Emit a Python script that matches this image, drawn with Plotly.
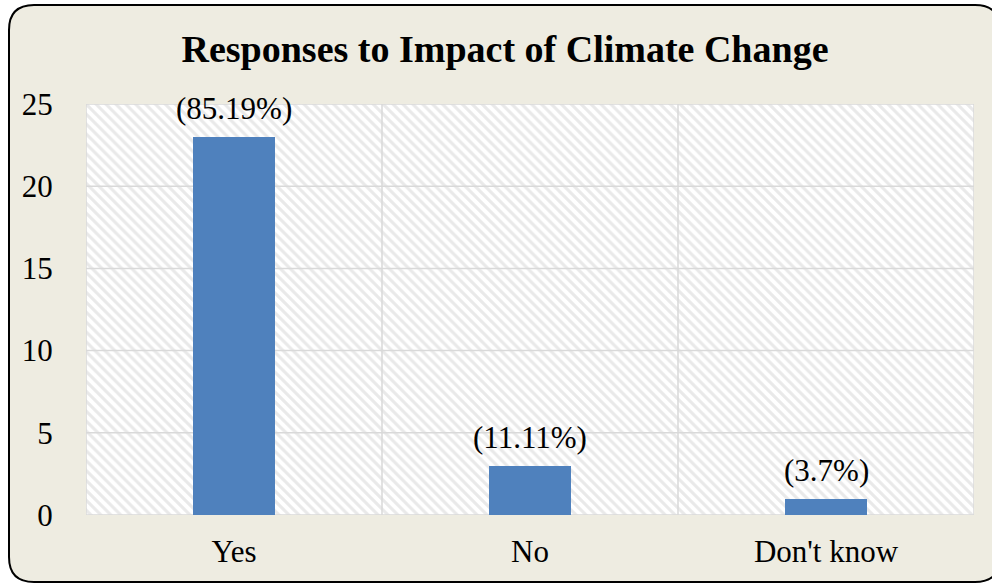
import plotly.graph_objects as go

categories = ["Yes", "No", "Don't know"]
counts = [23, 3, 1]
pct_labels = ["(85.19%)", "(11.11%)", "(3.7%)"]
y_ticks = [0, 5, 10, 15, 20, 25]

W, H = 992, 584
ML, MR, MT, MB = 86, 18, 104, 69
PW, PH = W - ML - MR, H - MT - MB

FONT = "Liberation Serif, Times New Roman, serif"
BAR = "#4F81BD"
GRID = "#D9D9D9"
BG = "#EEECE1"

n = len(categories)
xs = list(range(n))
ymax = y_ticks[-1]

fig = go.Figure()

# hatched plot-area background (main subplot)
fig.add_trace(go.Bar(
    x=[(n - 1) / 2], y=[ymax], base=0, width=n,
    marker=dict(color="white", line=dict(width=0),
                pattern=dict(shape="\\", fgcolor="#D4D4D4", bgcolor="white",
                             size=7, solidity=0.45, fillmode="overlay")),
    hoverinfo="skip", showlegend=False, xaxis="x", yaxis="y"))

# gridlines (above the hatch)
gx, gy = [], []
for t in y_ticks:
    gx += [-0.5, n - 0.5, None]
    gy += [t, t, None]
for k in range(n + 1):
    gx += [k - 0.5, k - 0.5, None]
    gy += [0, ymax, None]
fig.add_trace(go.Scatter(x=gx, y=gy, mode="lines",
                         line=dict(color=GRID, width=1.5),
                         hoverinfo="skip", showlegend=False, cliponaxis=False,
                         xaxis="x", yaxis="y"))

# data bars on an overlaying axis so they sit above the gridlines
fig.add_trace(go.Bar(x=xs, y=counts, width=0.274,
                     marker=dict(color=BAR, line=dict(width=0)),
                     showlegend=False, xaxis="x2", yaxis="y"))

for x, c, lab in zip(xs, counts, pct_labels):
    fig.add_annotation(x=x, y=c, xref="x2", yref="y", text=lab, showarrow=False,
                       yanchor="bottom", yshift=9,
                       font=dict(family=FONT, size=31, color="black"))

# rounded frame (pixel -> paper conversion)
def X(px):
    return (px - ML) / PW

def Y(py):
    return (H - MB - py) / PH

L_, T_, R_, B_, r = 9, 5, 1000, 582, 25
path = (f"M {X(L_+r)},{Y(T_)} L {X(R_-r)},{Y(T_)} Q {X(R_)},{Y(T_)} {X(R_)},{Y(T_+r)} "
        f"L {X(R_)},{Y(B_-r)} Q {X(R_)},{Y(B_)} {X(R_-r)},{Y(B_)} "
        f"L {X(L_+r)},{Y(B_)} Q {X(L_)},{Y(B_)} {X(L_)},{Y(B_-r)} "
        f"L {X(L_)},{Y(T_+r)} Q {X(L_)},{Y(T_)} {X(L_+r)},{Y(T_)} Z")
fig.add_shape(type="path", path=path, xref="paper", yref="paper",
              fillcolor=BG, line=dict(color="black", width=2), layer="below")

fig.update_layout(
    width=W, height=H,
    margin=dict(l=ML, r=MR, t=MT, b=MB),
    paper_bgcolor="white", plot_bgcolor="rgba(0,0,0,0)",
    barmode="overlay", bargap=0,
    font=dict(family=FONT, size=31, color="black"),
    title=dict(text="<b>Responses to Impact of Climate Change</b>",
               x=505 / W, xanchor="center", xref="container",
               y=1 - 49 / H, yanchor="middle", yref="container",
               font=dict(family=FONT, size=38, color="black")),
    xaxis=dict(range=[-0.5, n - 0.5], tickvals=xs, ticktext=categories,
               showgrid=False, zeroline=False, showline=False,
               ticks="outside", ticklen=9, tickcolor="rgba(0,0,0,0)",
               fixedrange=True),
    xaxis2=dict(range=[-0.5, n - 0.5], overlaying="x", matches="x",
                visible=False, fixedrange=True),
    yaxis=dict(range=[0, ymax], tickvals=y_ticks, showgrid=False,
               zeroline=False, showline=False,
               ticks="outside", ticklen=26, tickcolor="rgba(0,0,0,0)",
               fixedrange=True),
    hovermode=False,
)

fig.write_html("out.html")
